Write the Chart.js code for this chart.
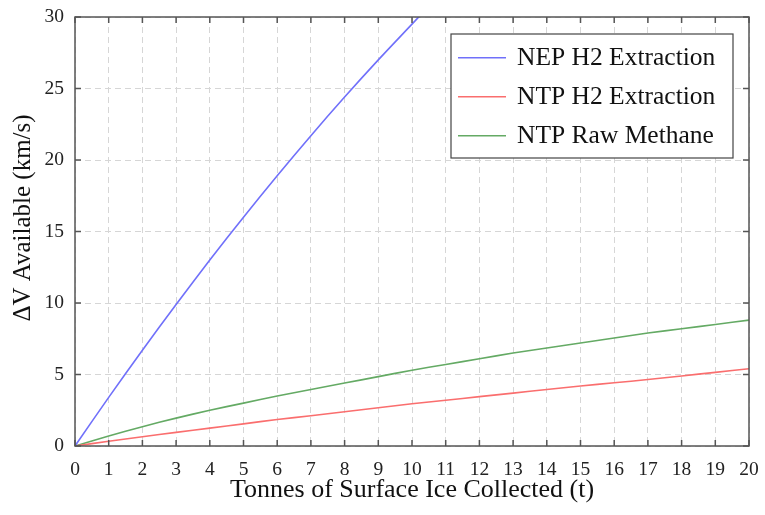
<!DOCTYPE html>
<html>
<head>
<meta charset="utf-8">
<script src="https://cdn.jsdelivr.net/npm/chart.js@4/dist/chart.umd.min.js"></script>
<style>
  body { margin: 0; background: #fff; }
  #myChart { display: block; }
</style>
</head>
<body>
<canvas id="myChart" width="765" height="515"></canvas>
<script>
// tonnes of ice (x) and delta-v (y)
const tonnes = [0, 1, 2, 3, 4, 5, 6, 7, 8, 9, 10, 11, 12, 13, 14, 15, 16, 17, 18, 19, 20];
const nepH2 = [0, 3.4, 6.7, 9.9, 13.0, 16.0, 18.9, 21.7, 24.4, 27.0, 29.5, 32.0];
const ntpH2 = [0, 0.33, 0.65, 0.95, 1.25, 1.55, 1.85, 2.12, 2.4, 2.68, 2.95, 3.2, 3.45, 3.7, 3.95, 4.2, 4.42, 4.65, 4.9, 5.15, 5.4];
const ntpMethane = [0, 0.7, 1.35, 1.95, 2.5, 3.0, 3.5, 3.95, 4.4, 4.85, 5.3, 5.7, 6.1, 6.5, 6.85, 7.2, 7.55, 7.9, 8.2, 8.5, 8.8];
const seriesNames = ["NEP H2 Extraction", "NTP H2 Extraction", "NTP Raw Methane"];
const seriesColors = ["rgb(112,112,250)", "rgb(250,110,110)", "rgb(100,170,100)"];

const xTitle = "Tonnes of Surface Ice Collected (t)";
const yTitle = "\u0394V Available (km/s)";

const serif = "'Liberation Serif', 'Times New Roman', serif";

function pts(ys) {
  return ys.map((v, i) => ({ x: tonnes[i], y: v }));
}

// frame + inward ticks on all four sides, plus the y title
const framePlugin = {
  id: "frame",
  afterDraw(chart) {
    const ctx = chart.ctx;
    const a = chart.chartArea;
    const xs = chart.scales.x, ys = chart.scales.y;
    ctx.save();
    ctx.strokeStyle = "#555";
    ctx.lineWidth = 1.5;
    ctx.beginPath();
    xs.ticks.forEach(t => {
      const px = xs.getPixelForValue(t.value);
      ctx.moveTo(px, a.bottom); ctx.lineTo(px, a.bottom - 6);
      ctx.moveTo(px, a.top); ctx.lineTo(px, a.top + 6);
    });
    ys.ticks.forEach(t => {
      const py = ys.getPixelForValue(t.value);
      ctx.moveTo(a.left, py); ctx.lineTo(a.left + 6, py);
      ctx.moveTo(a.right, py); ctx.lineTo(a.right - 6, py);
    });
    ctx.stroke();
    ctx.strokeRect(a.left, a.top, a.right - a.left, a.bottom - a.top);

    // y axis title, a little above centre as in the figure
    ctx.translate(23, 218);
    ctx.rotate(-Math.PI / 2);
    ctx.font = "25px " + serif;
    ctx.fillStyle = "#111";
    ctx.textAlign = "center";
    ctx.textBaseline = "middle";
    ctx.fillText(yTitle, 0, 0);
    ctx.restore();
  }
};

// legend box inside the plot, top right
const legendPlugin = {
  id: "boxLegend",
  afterDraw(chart) {
    const ctx = chart.ctx;
    const bx = 451, by = 34, bw = 282, bh = 124;
    ctx.save();
    ctx.fillStyle = "#fff";
    ctx.fillRect(bx, by, bw, bh);
    ctx.strokeStyle = "#444";
    ctx.lineWidth = 1.2;
    ctx.strokeRect(bx, by, bw, bh);
    ctx.font = "25.5px " + serif;
    ctx.textBaseline = "middle";
    chart.data.datasets.forEach((ds, i) => {
      const y = by + 23.7 + i * 39;
      ctx.strokeStyle = ds.borderColor;
      ctx.lineWidth = 1.6;
      ctx.beginPath();
      ctx.moveTo(bx + 7, y); ctx.lineTo(bx + 55, y);
      ctx.stroke();
      ctx.fillStyle = "#111";
      ctx.fillText(ds.label, bx + 66, y + 1);
    });
    ctx.restore();
  }
};

new Chart(document.getElementById("myChart"), {
  type: "line",
  data: {
    datasets: [
      { label: seriesNames[0], data: pts(nepH2), borderColor: seriesColors[0] },
      { label: seriesNames[1], data: pts(ntpH2), borderColor: seriesColors[1] },
      { label: seriesNames[2], data: pts(ntpMethane), borderColor: seriesColors[2] }
    ]
  },
  options: {
    responsive: false,
    animation: false,
    layout: { padding: { left: 0, top: 17, right: 16, bottom: 0 } },
    elements: {
      point: { radius: 0 },
      line: { borderWidth: 1.6, tension: 0.3 }
    },
    plugins: {
      legend: { display: false },
      tooltip: { enabled: false }
    },
    scales: {
      x: {
        type: "linear",
        min: 0, max: 20,
        border: { display: false, dash: [6, 4] },
        grid: { color: "#d6d6d6", drawTicks: false },
        ticks: { stepSize: 1, padding: 12, color: "#222", font: { family: serif, size: 19.5 } },
        title: { display: true, text: xTitle, color: "#111", padding: { top: 2, bottom: 9 }, font: { family: serif, size: 26 } },
        afterFit(s) { s.height = 69; s.paddingRight = 0; s.paddingLeft = 0; }
      },
      y: {
        min: 0, max: 30,
        border: { display: false, dash: [6, 4] },
        grid: { color: "#d6d6d6", drawTicks: false },
        ticks: { stepSize: 5, padding: 11, color: "#222", font: { family: serif, size: 19.5 } },
        title: { display: false },
        afterFit(s) { s.width = 75; s.paddingTop = 0; s.paddingBottom = 0; }
      }
    }
  },
  plugins: [framePlugin, legendPlugin]
});
</script>
</body>
</html>
